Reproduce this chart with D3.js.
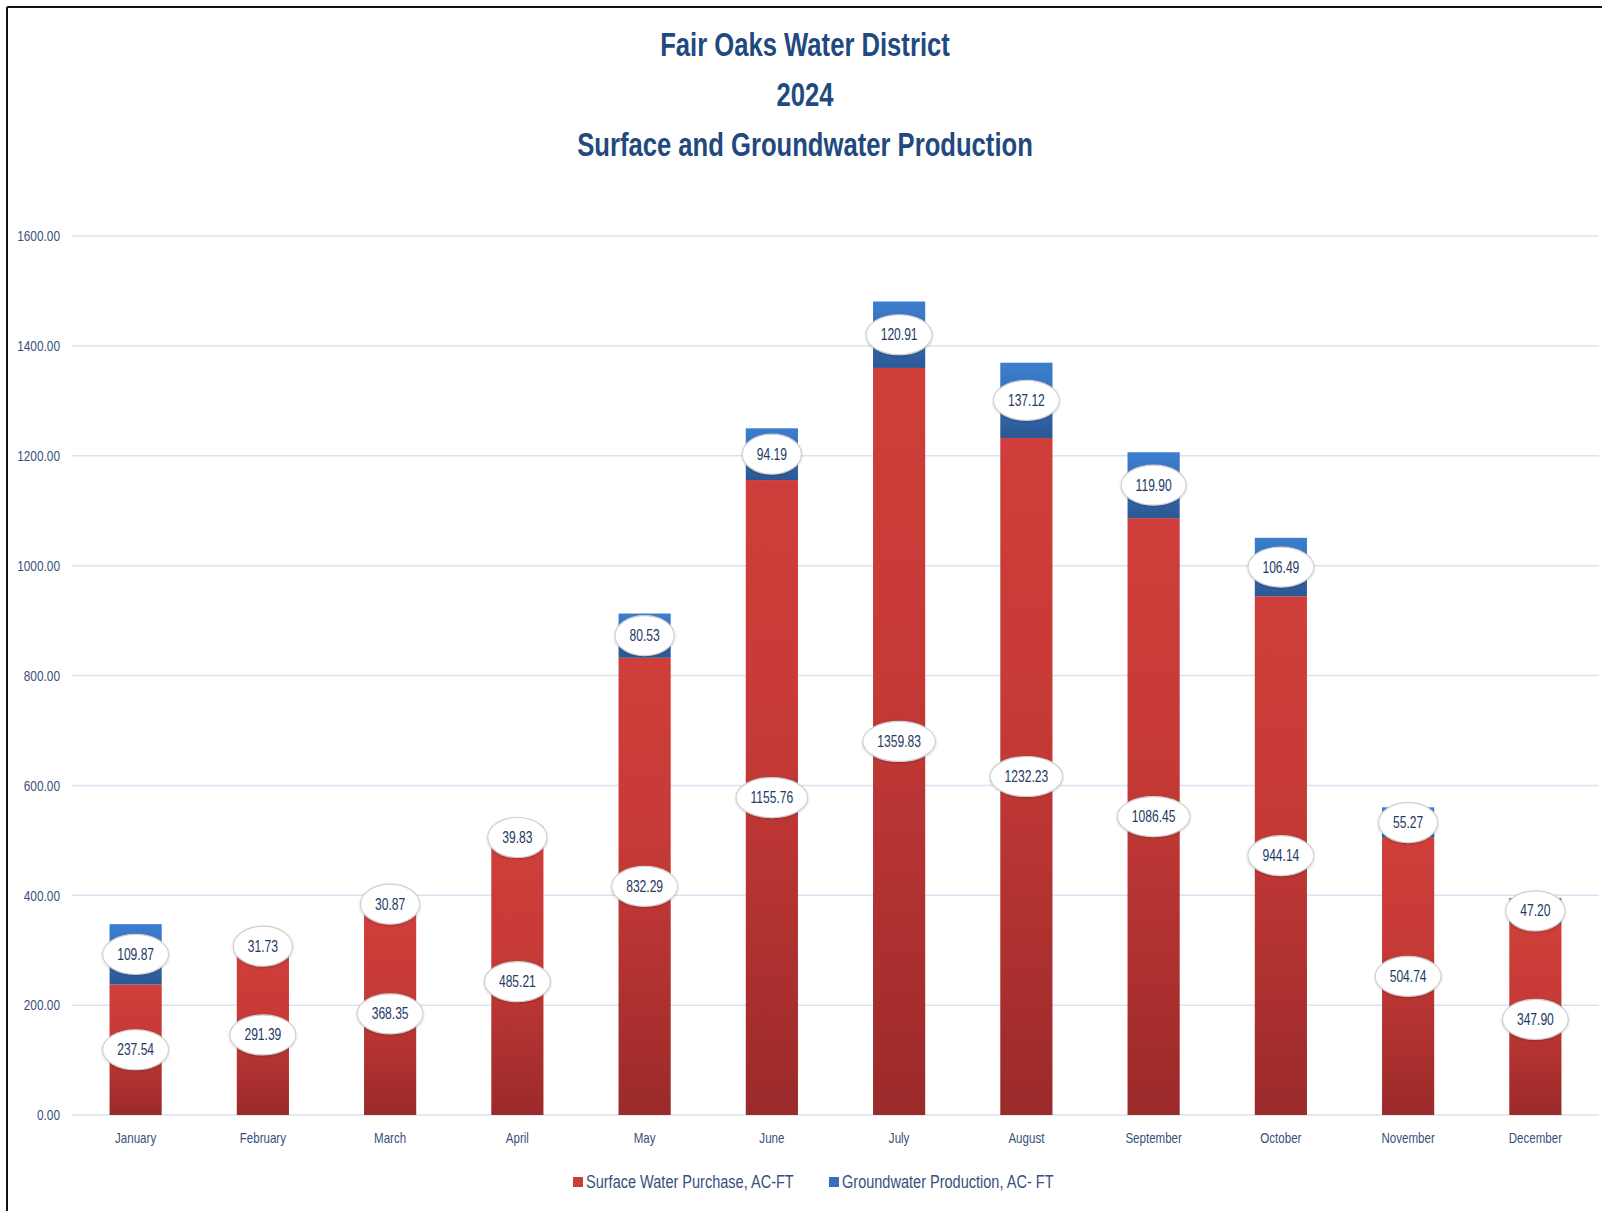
<!DOCTYPE html>
<html>
<head>
<meta charset="utf-8">
<script src="https://cdn.jsdelivr.net/npm/d3@7"></script>
<style>
  html, body { margin: 0; padding: 0; background: #fff; }
  svg { display: block; }
  text { font-family: "Liberation Sans", Arial, sans-serif; }
</style>
</head>
<body>
<div id="chart"></div>
<script>
const months = ["January","February","March","April","May","June","July","August","September","October","November","December"];
const surfaceWater = [237.54, 291.39, 368.35, 485.21, 832.29, 1155.76, 1359.83, 1232.23, 1086.45, 944.14, 504.74, 347.90];
const groundwater = [109.87, 31.73, 30.87, 39.83, 80.53, 94.19, 120.91, 137.12, 119.90, 106.49, 55.27, 47.20];
const yTicks = [0, 200, 400, 600, 800, 1000, 1200, 1400, 1600];
const titleLines = ["Fair Oaks Water District", "2024", "Surface and Groundwater Production"];
const seriesNames = ["Surface Water Purchase, AC-FT", "Groundwater Production, AC- FT"];

const W = 1602, H = 1211;
const plot = { left: 72, right: 1599, top: 236, bottom: 1115 };

// horizontally condense text (the reference uses a narrow typeface)
function condense(sel, f) {
  sel.each(function () {
    const w = this.getComputedTextLength();
    d3.select(this).attr("textLength", w * f).attr("lengthAdjust", "spacingAndGlyphs");
  });
  return sel;
}

const svg = d3.select("#chart").append("svg").attr("width", W).attr("height", H);

const defs = svg.append("defs");
const gRed = defs.append("linearGradient").attr("id", "gradRed").attr("x1", 0).attr("y1", 0).attr("x2", 0).attr("y2", 1);
gRed.append("stop").attr("offset", "0").attr("stop-color", "#cf3e3a");
gRed.append("stop").attr("offset", "0.4").attr("stop-color", "#c63a37");
gRed.append("stop").attr("offset", "1").attr("stop-color", "#9b2a2a");
const gBlue = defs.append("linearGradient").attr("id", "gradBlue").attr("x1", 0).attr("y1", 0).attr("x2", 0).attr("y2", 1);
gBlue.append("stop").attr("offset", "0").attr("stop-color", "#3b7ecf");
gBlue.append("stop").attr("offset", "0.35").attr("stop-color", "#3874c0");
gBlue.append("stop").attr("offset", "1").attr("stop-color", "#2c5793");
const sh = defs.append("filter").attr("id", "shadow").attr("x", "-20%").attr("y", "-20%").attr("width", "140%").attr("height", "150%");
sh.append("feDropShadow").attr("dx", 0).attr("dy", 1).attr("stdDeviation", 1).attr("flood-color", "#000").attr("flood-opacity", 0.2);

// frame (left and top edges)
svg.append("line").attr("x1", 7).attr("y1", 7).attr("x2", W).attr("y2", 7).attr("stroke", "#111").attr("stroke-width", 2);
svg.append("line").attr("x1", 7).attr("y1", 7).attr("x2", 7).attr("y2", H).attr("stroke", "#111").attr("stroke-width", 2);

// title
const titleY = [44, 94, 144];
const title = svg.append("g").selectAll("text").data(titleLines).join("text")
  .attr("x", 805).attr("y", (d, i) => titleY[i])
  .attr("text-anchor", "middle").attr("dominant-baseline", "central")
  .attr("font-size", 33.5).attr("font-weight", "bold").attr("fill", "#1f4a7f")
  .text(d => d);
condense(title, 0.765);

const x = d3.scaleBand().domain(months).range([plot.left, plot.right]).paddingInner(0.59).paddingOuter(0.295);
const y = d3.scaleLinear().domain([0, 1600]).range([plot.bottom, plot.top]);

// gridlines
svg.append("g").selectAll("line").data(yTicks).join("line")
  .attr("x1", plot.left).attr("x2", plot.right)
  .attr("y1", d => y(d)).attr("y2", d => y(d))
  .attr("stroke", "#d9e3f3").attr("stroke-width", 1.5);

// y axis
const yAxis = svg.append("g").attr("transform", `translate(${plot.left - 12},0)`)
  .call(d3.axisLeft(y).tickValues(yTicks).tickFormat(d3.format(".2f")).tickSize(0).tickPadding(0));
yAxis.select(".domain").remove();
yAxis.selectAll("text").attr("font-size", 15).attr("fill", "#38507a")
  .style("font-family", '"Liberation Sans", Arial, sans-serif');
condense(yAxis.selectAll("text"), 0.79);

// x axis
const xAxis = svg.append("g").attr("transform", `translate(0,${plot.bottom})`)
  .call(d3.axisBottom(x).tickSize(0).tickPadding(17));
xAxis.select(".domain").remove();
xAxis.selectAll("text").attr("font-size", 15).attr("fill", "#38507a")
  .style("font-family", '"Liberation Sans", Arial, sans-serif');
condense(xAxis.selectAll("text"), 0.77);

// stacked data
const rows = months.map((m, i) => ({ month: m, surface: surfaceWater[i], ground: groundwater[i] }));
const stack = d3.stack().keys(["surface", "ground"])(rows);
const fills = ["url(#gradRed)", "url(#gradBlue)"];

const bars = svg.append("g");
stack.forEach((layer, li) => {
  bars.append("g").selectAll("rect").data(layer).join("rect")
    .attr("x", d => x(d.data.month))
    .attr("width", x.bandwidth())
    .attr("y", d => y(d[1]))
    .attr("height", d => y(d[0]) - y(d[1]))
    .attr("fill", fills[li]);
});

// data labels
const fmt = d3.format(".2f");
const labels = svg.append("g");
stack.forEach(layer => {
  layer.forEach(d => {
    const val = d[1] - d[0];
    const cx = x(d.data.month) + x.bandwidth() / 2;
    const cy = y((d[0] + d[1]) / 2);
    const g = labels.append("g").attr("transform", `translate(${cx},${cy})`);
    const ell = g.append("ellipse").attr("fill", "#fff").attr("stroke", "#d0d0d0").attr("stroke-width", 1.2)
      .attr("filter", "url(#shadow)");
    const t = g.append("text").attr("text-anchor", "middle").attr("dominant-baseline", "central")
      .attr("font-size", 17).attr("fill", "#243a66").text(fmt(val));
    const w = t.node().getComputedTextLength() * 0.71;
    t.attr("textLength", w).attr("lengthAdjust", "spacingAndGlyphs");
    ell.attr("rx", w / 2 + 14.5).attr("ry", 20);
  });
});

// legend
const legend = svg.append("g").attr("transform", "translate(573,1182)");
const legendX = [0, 256];
const legendColors = ["#c9403b", "#3671bf"];
seriesNames.forEach((n, i) => {
  const g = legend.append("g").attr("transform", `translate(${legendX[i]},0)`);
  g.append("rect").attr("x", 0).attr("y", -5).attr("width", 10).attr("height", 10).attr("fill", legendColors[i]);
  const t = g.append("text").attr("x", 13).attr("y", 0).attr("dominant-baseline", "central")
    .attr("font-size", 17.5).attr("fill", "#38507a").text(n);
  condense(t, 0.83);
});
</script>
</body>
</html>
